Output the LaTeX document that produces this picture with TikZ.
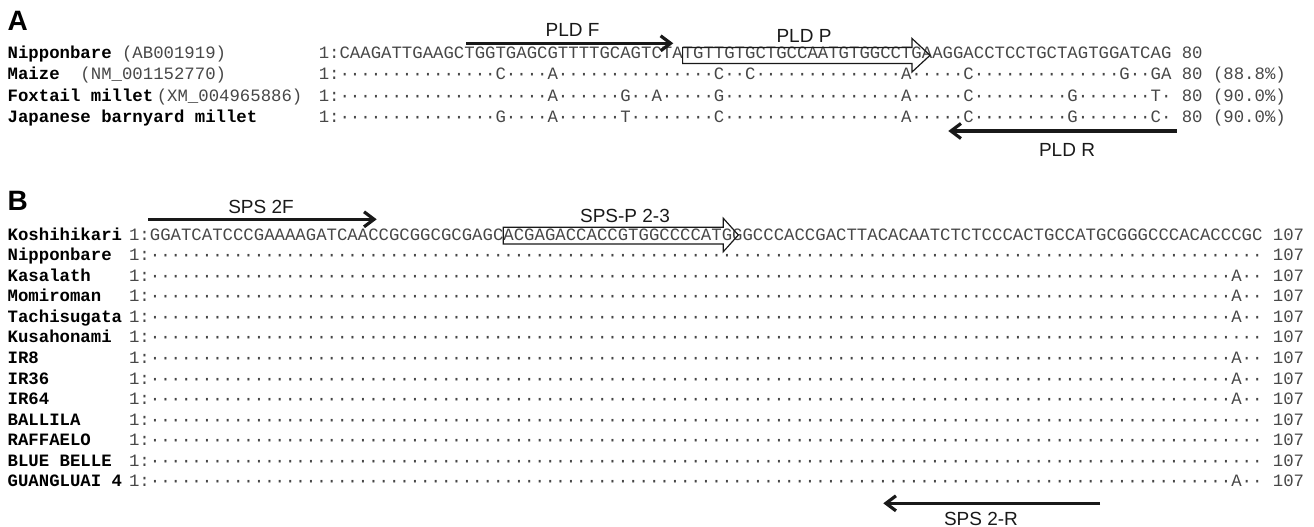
\documentclass[tikz,border=0pt]{standalone}
\usepackage{fontspec}
\setmainfont{Liberation Sans}
\newfontfamily\seqfont{Liberation Mono}
\usetikzlibrary{arrows.meta}
\ExplSyntaxOn
\cs_new:Npn \dts #1 { \prg_replicate:nn {#1} {·} }
\ExplSyntaxOff
\begin{document}
\begin{tikzpicture}[x=1pt,y=-1pt,
  seq/.style={anchor=base west, inner sep=0pt, font=\seqfont\fontsize{17.33pt}{20pt}\selectfont, text=black!72},
  nm/.style={anchor=base west, inner sep=0pt, font=\seqfont\bfseries\fontsize{17.33pt}{20pt}\selectfont, text=black},
  plab/.style={inner sep=0pt, anchor=center, font=\fontsize{19pt}{22pt}\selectfont, text=black!90},
  panel/.style={anchor=base west, inner sep=0pt, font=\bfseries\fontsize{28pt}{30pt}\selectfont},
  primer/.style={line width=3.2pt, draw=black!90, -{Straight Barb[length=10pt,width=15pt]}},
  probe/.style={draw=black!90, line width=1.2pt, line join=miter}
]
\useasboundingbox (0,0) rectangle (1314,527);

% ---------------- Panel A ----------------
\node[panel] (lblA) at (7.5,31) {A};

\node[nm] (nA1) at (7.5,59) {Nipponbare {\mdseries\color{black!72}(AB001919)}};
\node[nm] (nA2) at (7.5,80) {Maize {\mdseries\color{black!72}\ (NM\_001152770)}};
\node[nm] (nA3) at (7.5,101) {Foxtail millet\hspace{3.5pt}{\mdseries\color{black!72}(XM\_004965886)}};
\node[nm] (nA4) at (7.5,122) {Japanese barnyard millet};

\node[seq] (sA1) at (318.6,59) {1:CAAGATTGAAGCTGGTGAGCGTTTTGCAGTCTATGTTGTGCTGCCAATGTGGCCTGAAGGACCTCCTGCTAGTGGATCAG 80};
\node[seq] (sA2) at (318.6,80) {1:\dts{15}C\dts{4}A\dts{15}C\dts{2}C\dts{14}A\dts{5}C\dts{14}G\dts{2}GA 80 (88.8\%)};
\node[seq] (sA3) at (318.6,101) {1:\dts{20}A\dts{6}G\dts{2}A\dts{5}G\dts{17}A\dts{5}C\dts{9}G\dts{7}T\dts{1} 80 (90.0\%)};
\node[seq] (sA4) at (318.6,122) {1:\dts{15}G\dts{4}A\dts{6}T\dts{8}C\dts{17}A\dts{5}C\dts{9}G\dts{7}C\dts{1} 80 (90.0\%)};

% primers A
\coordinate (pFs) at (466,43.3);
\coordinate (pFe) at (673.3,43.3);
\draw[primer] (pFs) -- (pFe);
\node[plab] (lpF) at (572.5,30) {PLD F};

\coordinate (pRs) at (1176.7,131);
\coordinate (pRe) at (948.3,131);
\draw[primer] (pRs) -- (pRe);
\node[plab] (lpR) at (1067,150) {PLD R};

\draw[probe] (682.6,47.5) -- (912,47.5) -- (912,38.5) -- (930,55.3) -- (912,72) -- (912,63.5) -- (682.6,63.5) -- cycle;
\node[plab] (lpP) at (804,36) {PLD P};

% ---------------- Panel B ----------------
\node[panel] (lblB) at (7.5,210) {B};

\node[nm] (nB0) at (7.5,240) {Koshihikari};
\node[nm] (nB1) at (7.5,260.58) {Nipponbare};
\node[nm] (nB2) at (7.5,281.16) {Kasalath};
\node[nm] (nB3) at (7.5,301.74) {Momiroman};
\node[nm] (nB4) at (7.5,322.32) {Tachisugata};
\node[nm] (nB5) at (7.5,342.9) {Kusahonami};
\node[nm] (nB6) at (7.5,363.48) {IR8};
\node[nm] (nB7) at (7.5,384.06) {IR36};
\node[nm] (nB8) at (7.5,404.64) {IR64};
\node[nm] (nB9) at (7.5,425.22) {BALLILA};
\node[nm] (nB10) at (7.5,445.8) {RAFFAELO};
\node[nm] (nB11) at (7.5,466.38) {BLUE BELLE};
\node[nm] (nB12) at (7.5,486.96) {GUANGLUAI 4};

\node[seq] (sB0) at (128.9,240) {1:GGATCATCCCGAAAAGATCAACCGCGGCGCGAGCACGAGACCACCGTGGCCCCATGGGCCCACCGACTTACACAATCTCTCCCACTGCCATGCGGGCCCACACCCGC 107};
\node[seq] (sB1) at (128.9,260.58) {1:\dts{107} 107};
\node[seq] (sB2) at (128.9,281.16) {1:\dts{104}A\dts{2} 107};
\node[seq] (sB3) at (128.9,301.74) {1:\dts{104}A\dts{2} 107};
\node[seq] (sB4) at (128.9,322.32) {1:\dts{104}A\dts{2} 107};
\node[seq] (sB5) at (128.9,342.9) {1:\dts{107} 107};
\node[seq] (sB6) at (128.9,363.48) {1:\dts{104}A\dts{2} 107};
\node[seq] (sB7) at (128.9,384.06) {1:\dts{104}A\dts{2} 107};
\node[seq] (sB8) at (128.9,404.64) {1:\dts{104}A\dts{2} 107};
\node[seq] (sB9) at (128.9,425.22) {1:\dts{107} 107};
\node[seq] (sB10) at (128.9,445.8) {1:\dts{107} 107};
\node[seq] (sB11) at (128.9,466.38) {1:\dts{107} 107};
\node[seq] (sB12) at (128.9,486.96) {1:\dts{104}A\dts{2} 107};

% primers B
\coordinate (sFs) at (148.3,219.3);
\coordinate (sFe) at (376.7,219.3);
\draw[primer] (sFs) -- (sFe);
\node[plab] (lsF) at (261,206.5) {SPS 2F};

\coordinate (sRs) at (1100,503.3);
\coordinate (sRe) at (883.3,503.3);
\draw[primer] (sRs) -- (sRe);
\node[plab] (lsR) at (981,518.5) {SPS 2-R};

\draw[probe] (503.3,227.3) -- (723.3,227.3) -- (723.3,218.3) -- (738.3,235) -- (723.3,251.7) -- (723.3,244) -- (503.3,244) -- cycle;
\node[plab] (lsP) at (625,215.5) {SPS-P 2-3};
\end{tikzpicture}
\end{document}
